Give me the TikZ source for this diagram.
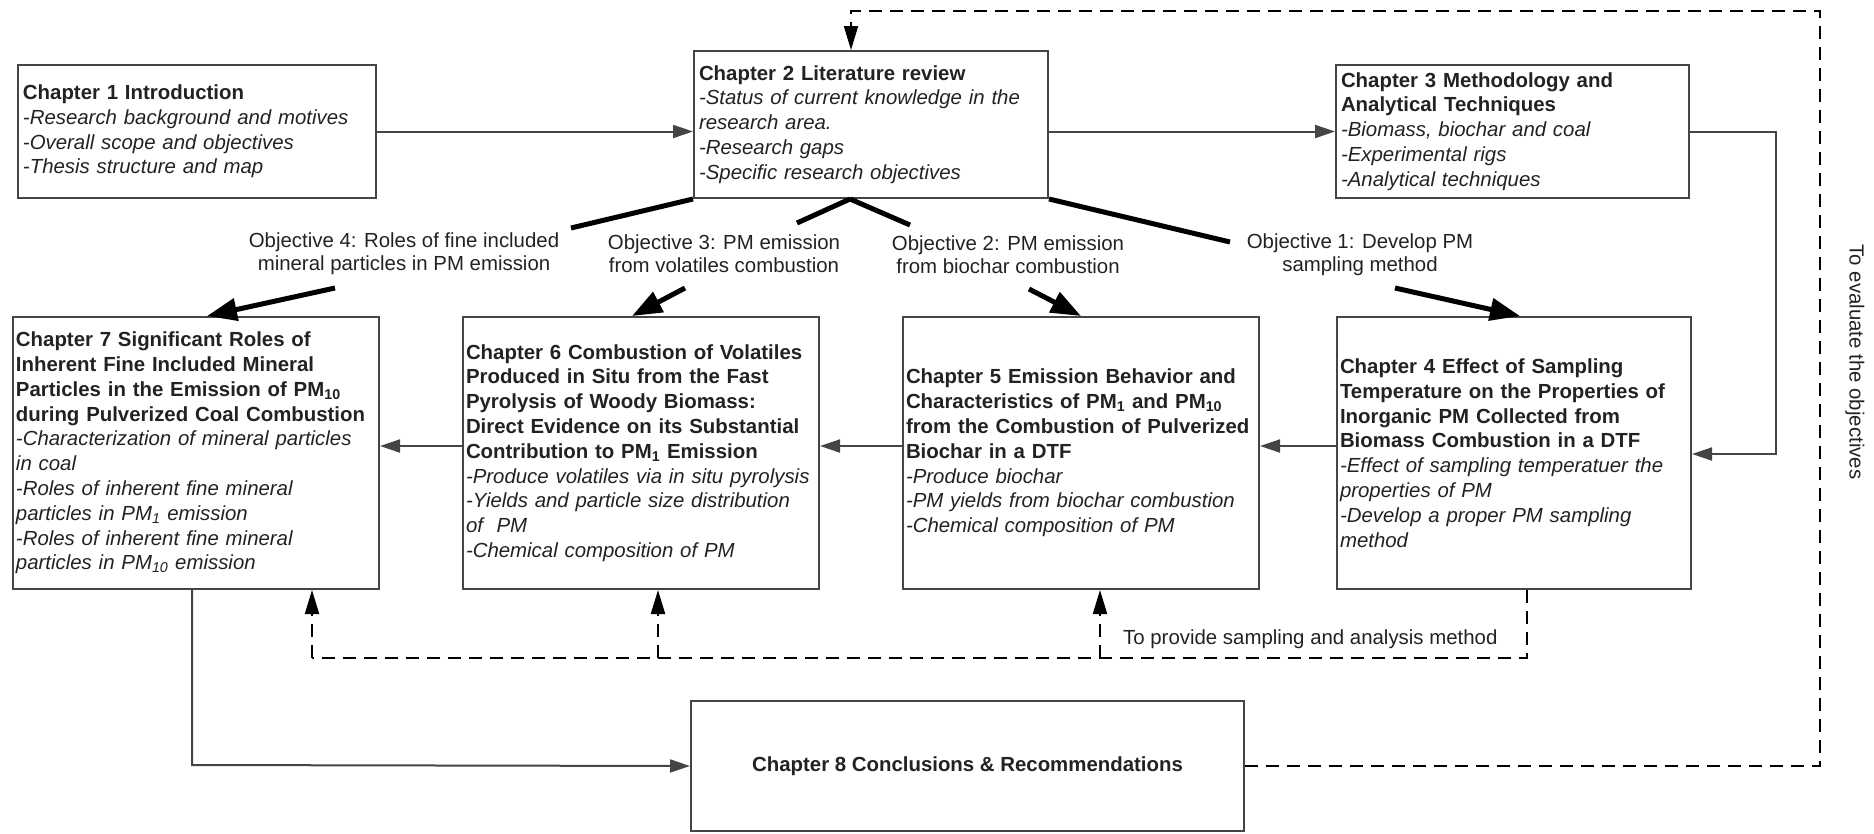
\documentclass[tikz,border=0pt]{standalone}
\usepackage{fontspec}
\setmainfont{Liberation Sans}
\usetikzlibrary{arrows.meta}
\definecolor{boxgray}{HTML}{454545}
\definecolor{inkgray}{HTML}{222222}
\newcommand\bodyfont{\fontsize{20.4}{24.8}\selectfont}
\newcommand\lblfont{\fontsize{20.4}{23}\selectfont}

\begin{document}
\begin{tikzpicture}[x=1pt,y=-1pt,
  chapbox/.style={draw=boxgray, line width=2pt, rectangle, anchor=north west,
    align=left, inner ysep=0pt, font=\bodyfont, text=inkgray},
  topbox/.style={chapbox, inner xsep=5pt},
  rowbox/.style={chapbox, inner xsep=3pt, minimum height=272pt},
  lbl/.style={font=\lblfont, text=inkgray, align=center, inner sep=0pt},
  conn/.style={draw=boxgray, line width=2pt, -{Triangle[length=20pt,width=13pt]}},
  objline/.style={draw=black, line width=5pt},
  objarr/.style={objline, -{Triangle[length=30pt,width=22pt]}},
  dashline/.style={draw=black, line width=2pt, dash pattern=on 13pt off 8pt},
  dasharr/.style={dashline, -{Triangle[length=24pt,width=14pt]}}]
\useasboundingbox (0,0) rectangle (1874,833);

% top row
\node[topbox, text width=348pt, minimum height=133pt] (ch1) at (17,64)
  {\textbf{Chapter 1 Introduction}\\
   \textit{-Research background and motives}\\
   \textit{-Overall scope and objectives}\\
   \textit{-Thesis structure and map}};
\node[topbox, text width=344pt, minimum height=147pt] (ch2) at (693,50)
  {\textbf{Chapter 2 Literature review}\\
   \textit{-Status of current knowledge in the}\\
   \textit{research area.}\\
   \textit{-Research gaps}\\
   \textit{-Specific research objectives}};
\node[topbox, text width=343pt, minimum height=133pt] (ch3) at (1335,64)
  {\textbf{Chapter 3 Methodology and}\\
   \textbf{Analytical Techniques}\\
   \textit{-Biomass, biochar and coal}\\
   \textit{-Experimental rigs}\\
   \textit{-Analytical techniques}};

% chapter row
\node[rowbox, text width=360pt] (ch7) at (12,316)
  {\textbf{Chapter 7 Significant Roles of}\\
   \textbf{Inherent Fine Included Mineral}\\
   \textbf{Particles in the Emission of PM\textsubscript{10}}\\
   \textbf{during Pulverized Coal Combustion}\\
   \textit{-Characterization of mineral particles}\\
   \textit{in coal}\\
   \textit{-Roles of inherent fine mineral}\\
   \textit{particles in PM\textsubscript{1} emission}\\
   \textit{-Roles of inherent fine mineral}\\
   \textit{particles in PM\textsubscript{10} emission}};
\node[rowbox, text width=350pt] (ch6) at (462,316)
  {\textbf{Chapter 6 Combustion of Volatiles}\\
   \textbf{Produced in Situ from the Fast}\\
   \textbf{Pyrolysis of Woody Biomass:}\\
   \textbf{Direct Evidence on its Substantial}\\
   \textbf{Contribution to PM\textsubscript{1} Emission}\\
   \textit{-Produce volatiles via in situ pyrolysis}\\
   \textit{-Yields and particle size distribution}\\
   \textit{of\ \ PM}\\
   \textit{-Chemical composition of PM}};
\node[rowbox, text width=350pt] (ch5) at (902,316)
  {\textbf{Chapter 5 Emission Behavior and}\\
   \textbf{Characteristics of PM\textsubscript{1} and PM\textsubscript{10}}\\
   \textbf{from the Combustion of Pulverized}\\
   \textbf{Biochar in a DTF}\\
   \textit{-Produce biochar}\\
   \textit{-PM yields from biochar combustion}\\
   \textit{-Chemical composition of PM}};
\node[rowbox, text width=348pt] (ch4) at (1336,316)
  {\textbf{Chapter 4 Effect of Sampling}\\
   \textbf{Temperature on the Properties of}\\
   \textbf{Inorganic PM Collected from}\\
   \textbf{Biomass Combustion in a DTF}\\
   \textit{-Effect of sampling temperatuer the}\\
   \textit{properties of PM}\\
   \textit{-Develop a proper PM sampling}\\
   \textit{method}};

% conclusions
\node[chapbox, align=center, minimum width=553pt, minimum height=130pt, inner xsep=0pt] (ch8) at (690,700)
  {\textbf{Chapter 8 Conclusions \& Recommendations}};

% objective labels
\node[lbl] (o4) at (404,254) {Objective 4: Roles of fine included\\mineral particles in PM emission};
\node[lbl] (o3) at (724,254) {Objective 3: PM emission\\from volatiles combustion};
\node[lbl] (o2) at (1008,255) {Objective 2: PM emission\\from biochar combustion};
\node[lbl] (o1) at (1360,255) {Objective 1: Develop PM\\sampling method};

% top row flow
\draw[conn] (ch1.east) -- (ch1.east -| ch2.west);
\draw[conn] (ch3.west -| ch2.east) -- (ch3.west);
\coordinate (rt) at (1776,454);
\draw[conn] (ch3.east) -| (rt) -- (rt -| ch4.east);

% chapter row flow
\draw[conn] ([yshift=7pt]ch4.west) -- ([yshift=7pt]ch4.west -| ch5.east);
\draw[conn] ([yshift=7pt]ch5.west) -- ([yshift=7pt]ch5.west -| ch6.east);
\draw[conn] ([yshift=7pt]ch6.west) -- ([yshift=7pt]ch6.west -| ch7.east);

% objectives from the literature review
\coordinate (split) at (850,0);
\coordinate (o4u) at (571,228);
\coordinate (o4l) at (335,288);
\coordinate (o4t) at (207,0);
\coordinate (o3u) at (797,223);
\coordinate (o3l) at (685,288);
\coordinate (o3t) at (632,0);
\coordinate (o2u) at (910,225);
\coordinate (o2l) at (1029,289);
\coordinate (o2t) at (1081,0);
\coordinate (o1u) at (1230,242);
\coordinate (o1l) at (1395,288);
\coordinate (o1t) at (1520,0);
\draw[objline] (ch2.south west) -- (o4u);
\draw[objline] (split |- ch2.south) -- (o3u);
\draw[objline] (split |- ch2.south) -- (o2u);
\draw[objline] (ch2.south east) -- (o1u);
\draw[objarr] (o4l) -- (o4t |- ch7.north);
\draw[objarr] (o3l) -- (o3t |- ch6.north);
\draw[objarr] (o2l) -- (o2t |- ch5.north);
\draw[objarr] (o1l) -- (o1t |- ch4.north);

% to conclusions
\coordinate (bl) at (192,765);
\draw[conn] (bl |- ch7.south) -- (bl) -- (ch8.west);

% sampling and analysis method feedback
\coordinate (dr) at (1527,658);
\coordinate (dl) at (312,658);
\coordinate (d6) at (658,658);
\coordinate (d5) at (1100,658);
\draw[dashline] (dr |- ch4.south) -- (dr) -- (dl);
\draw[dasharr] (dl) -- (dl |- ch7.south);
\draw[dasharr] (d6) -- (d6 |- ch6.south);
\draw[dasharr] (d5) -- (d5 |- ch5.south);
\node[lbl, anchor=west] (prov) at (1123,639) {To provide sampling and analysis method};

% evaluation loop
\coordinate (fr) at (1820,11);
\coordinate (fl) at (851,11);
\draw[dasharr] (ch8.east) -| (fr) -- (fl) -- (fl |- ch2.north);
\node[lbl, rotate=-90] (eval) at (1855,362) {To evaluate the objectives};
\end{tikzpicture}
\end{document}
